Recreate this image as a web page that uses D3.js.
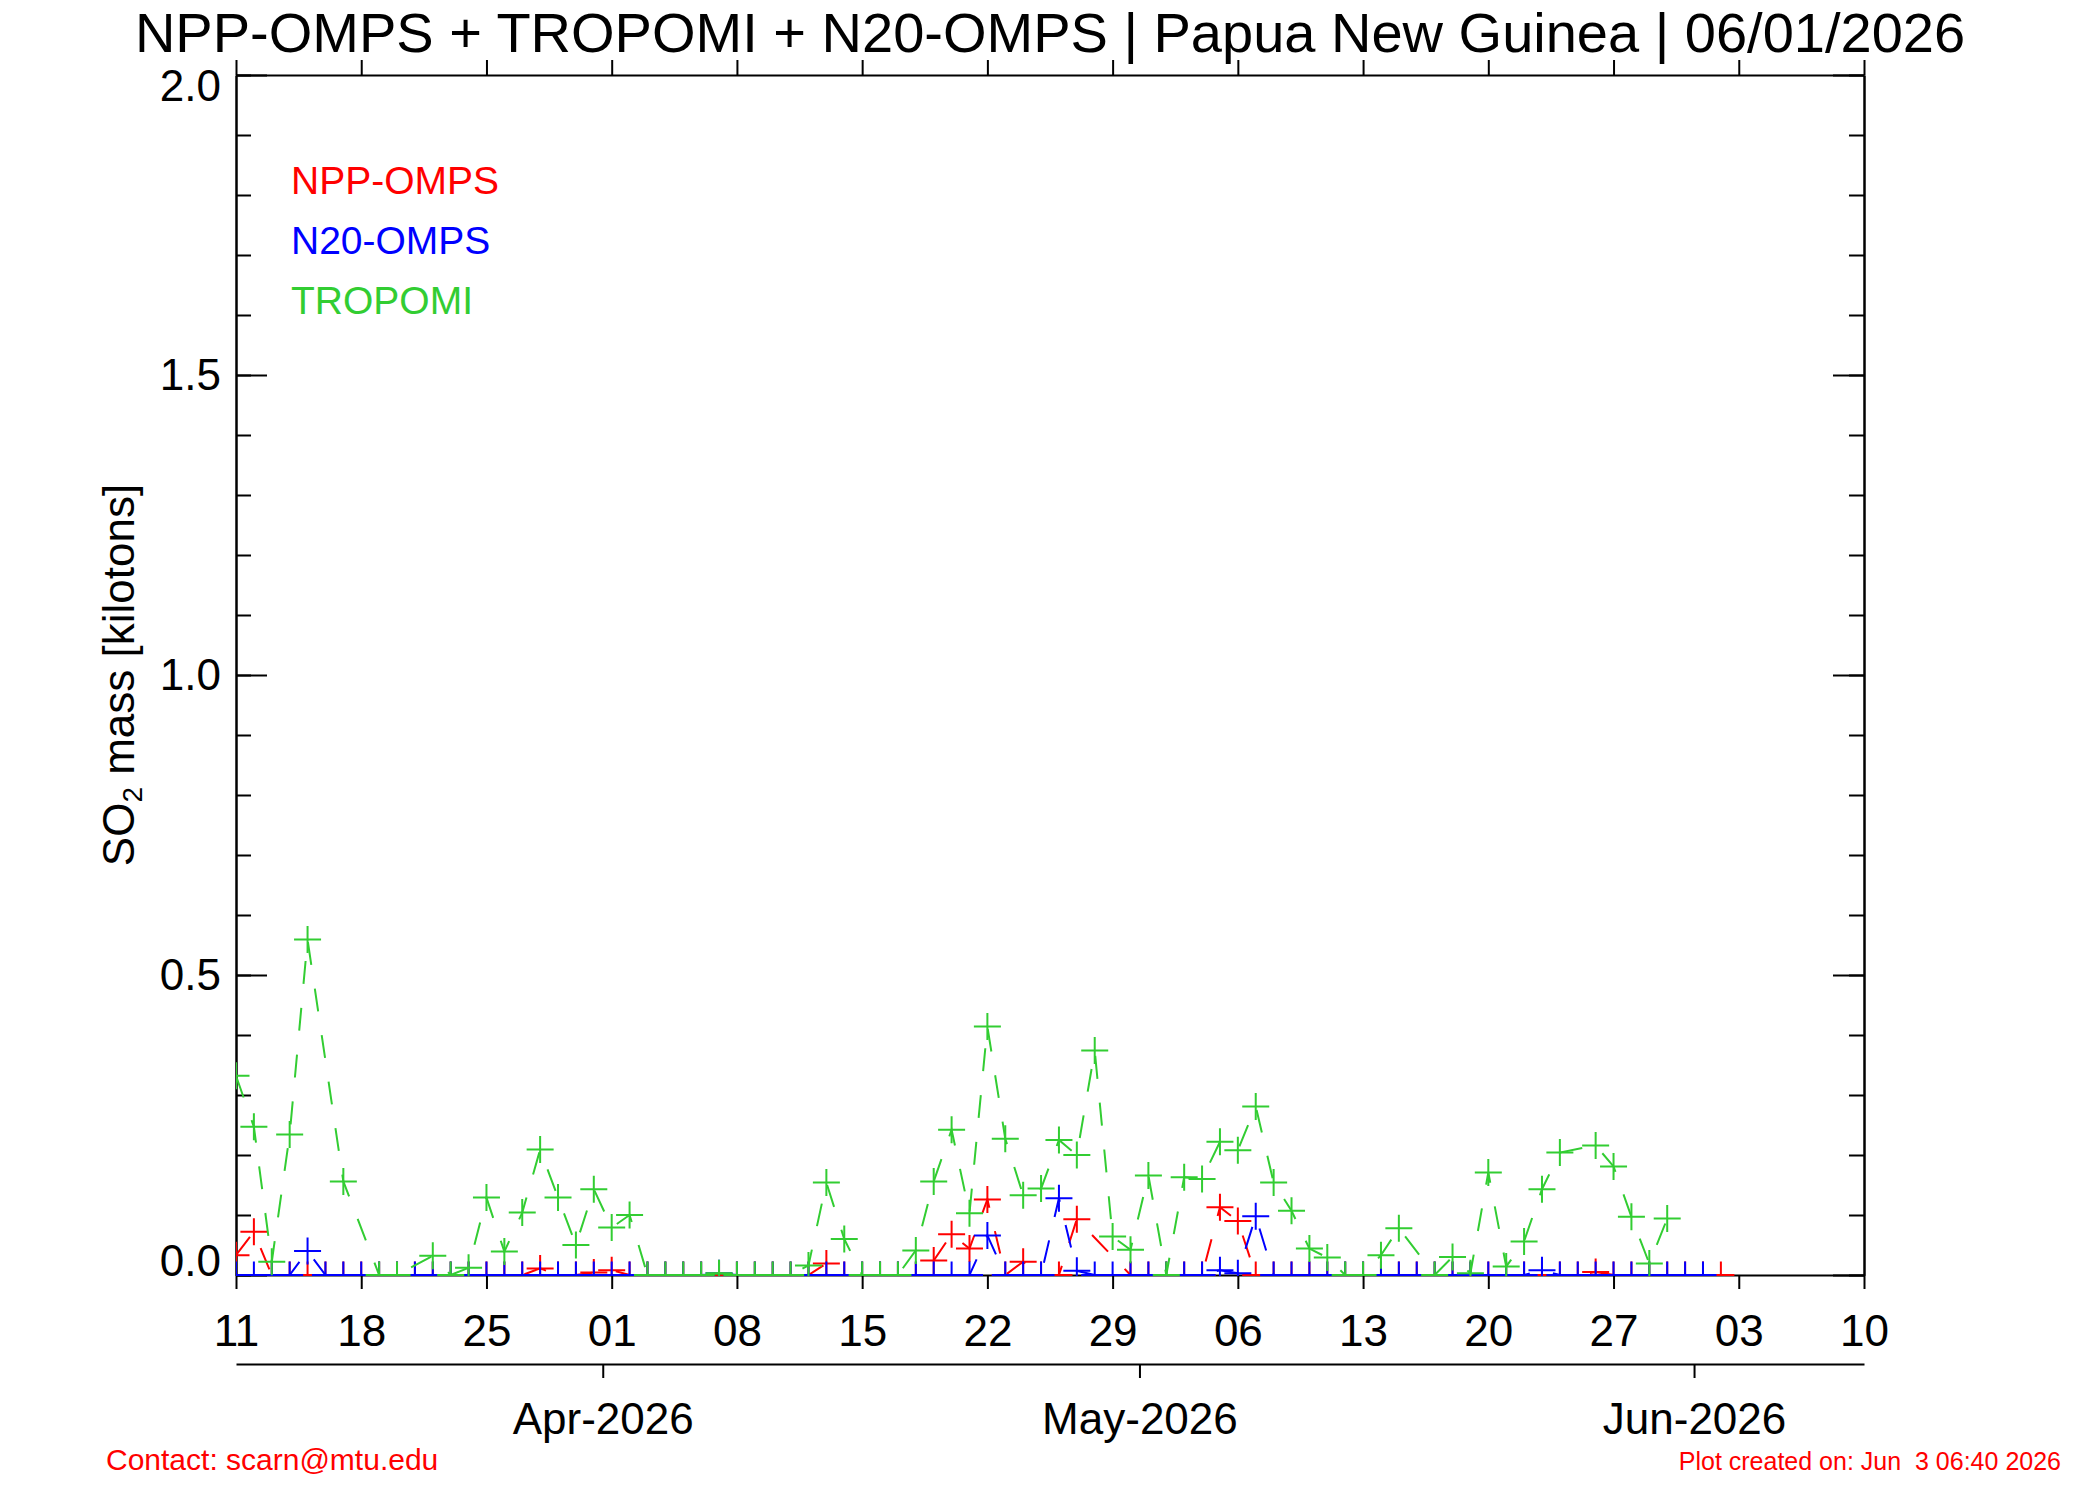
<!DOCTYPE html>
<html>
<head>
<meta charset="utf-8">
<script src="https://cdn.jsdelivr.net/npm/d3@7"></script>
<style>
body { margin: 0; background: #ffffff; }
text { font-family: "Liberation Sans", Arial, Helvetica, sans-serif; }
</style>
</head>
<body>
<svg id="chart" width="2100" height="1500"></svg>
<script>
var START_DATE = "2026-03-11";
var END_DATE = "2026-06-10";

// daily SO2 mass [kilotons], one value per day from START_DATE, null = no retrieval
var nppOmps = [
	0.033, 0.072, 0, 0, 0, 0, 0, 0, 0, 0,
	0, 0, 0, 0, 0, 0, 0, 0.011, 0, 0,
	0.004, 0.008, 0, 0, 0, 0, 0, 0, 0, 0,
	0, 0, 0, 0.019, 0, 0, 0, 0, 0, 0.024,
	0.068, 0.044, 0.126, 0, 0.022, 0, 0, 0.093, null, null,
	0, 0, 0, 0, 0, 0.113, 0.09, 0, 0, 0,
	0, 0, 0, 0, 0, 0, 0, 0, 0, 0,
	0, 0, 0, 0, 0, 0, 0.005, 0, 0, 0,
	0, 0, 0, 0
];

var n20Omps = [
	0, 0, 0, 0, 0.04, 0, 0, 0, 0, 0,
	0, 0, 0, 0, 0, 0, 0, 0, 0, 0,
	0, 0, 0, 0, 0, 0, 0, 0.003, 0, 0,
	0, 0, 0, 0, 0, 0, 0, 0, 0, 0,
	0, 0, 0.066, 0, 0, 0, 0.128, 0.007, 0, 0,
	0, 0, 0, 0, 0, 0.008, 0.003, 0.098, 0, 0,
	0, 0, 0, 0, 0, 0, 0, 0, 0, 0,
	0, 0, 0, 0.008, 0, 0, 0, 0, 0, 0,
	0, 0, 0, null
];

var tropomi = [
	0.332, 0.247, 0.022, 0.234, 0.559, null, 0.156, null, 0, 0,
	null, 0.032, 0, 0.012, 0.129, 0.039, 0.104, 0.209, 0.129, 0.05,
	0.143, 0.079, 0.1, 0, 0, 0, 0, 0.003, 0, 0,
	0, 0, 0.016, 0.154, 0.06, 0, 0, 0, 0.041, 0.156,
	0.242, 0.103, 0.414, 0.227, 0.133, 0.144, 0.225, 0.2, 0.374, 0.064,
	0.042, 0.166, 0, 0.163, 0.16, 0.222, 0.208, 0.281, 0.154, 0.107,
	0.044, 0.029, 0, 0, 0.033, 0.078, null, 0, 0.03, 0.003,
	0.171, 0.014, 0.056, 0.143, 0.204, null, 0.216, 0.181, 0.097, 0.019,
	0.094, null, null, null
];

var seriesNames = ["NPP-OMPS", "N20-OMPS", "TROPOMI"];
var seriesColors = ["#ff0000", "#0000ff", "#32cd32"];

var yMajorTicks = [0, 0.5, 1.0, 1.5, 2.0];
var yMinorTicks = [0, 0.1, 0.2, 0.3, 0.4, 0.5, 0.6, 0.7, 0.8, 0.9, 1.0,
	1.1, 1.2, 1.3, 1.4, 1.5, 1.6, 1.7, 1.8, 1.9, 2.0];

// month marks sit half a day before the 1st, as in the original plot
var monthTicks = ["2026-03-31T12:00:00Z", "2026-04-30T12:00:00Z", "2026-05-31T12:00:00Z"];
var monthLabels = ["Apr-2026", "May-2026", "Jun-2026"];

var titleText = "NPP-OMPS + TROPOMI + N20-OMPS | Papua New Guinea | 06/01/2026";
var contactText = "Contact: scarn@mtu.edu";
var createdText = "Plot created on: Jun  3 06:40 2026";

var LEFT = 236, RIGHT = 1864, TOP = 75, BOTTOM = 1275;

var parseDay = d3.utcParse("%Y-%m-%d");
var startDay = parseDay(START_DATE);
var endDay = parseDay(END_DATE);

var x = d3.scaleUtc().domain([startDay, endDay]).range([LEFT, RIGHT]);
var y = d3.scaleLinear().domain([0, 2]).range([BOTTOM, TOP]);

var weekTicks = d3.utcDay.range(startDay, d3.utcDay.offset(endDay, 1), 7);

var svg = d3.select("#chart");

svg.append("rect")
	.attr("width", 2100)
	.attr("height", 1500)
	.attr("fill", "#ffffff");

function styleAxis(g, fontSize) {
	g.attr("font-family", "\"Liberation Sans\", Arial, Helvetica, sans-serif")
		.attr("font-size", fontSize);
	g.selectAll("path, line").attr("stroke", "#000").attr("stroke-width", 2);
	g.selectAll("text").attr("fill", "#000");
}

// bottom date axis
svg.append("g")
	.attr("transform", "translate(0," + BOTTOM + ")")
	.call(d3.axisBottom(x).tickValues(weekTicks).tickSizeInner(14).tickSizeOuter(0)
		.tickPadding(26).tickFormat(d3.utcFormat("%d")))
	.call(styleAxis, 44);

// top axis, ticks only
svg.append("g")
	.attr("transform", "translate(0," + TOP + ")")
	.call(d3.axisTop(x).tickValues(weekTicks).tickSizeInner(15).tickSizeOuter(0).tickFormat(""))
	.call(styleAxis, 44);

// month axis below
var parseIso = d3.utcParse("%Y-%m-%dT%H:%M:%SZ");
var monthDates = monthTicks.map(function (s) { return parseIso(s); });
svg.append("g")
	.attr("transform", "translate(0,1364)")
	.call(d3.axisBottom(x).tickValues(monthDates).tickSizeInner(14).tickSizeOuter(0)
		.tickPadding(25).tickFormat(function (d, i) { return monthLabels[i]; }))
	.call(styleAxis, 44);

// left axis: inward ticks + labels
svg.append("g")
	.attr("transform", "translate(" + LEFT + ",0)")
	.call(d3.axisRight(y).tickValues(yMinorTicks).tickSizeInner(15).tickSizeOuter(0).tickFormat(""))
	.call(styleAxis, 44);
svg.append("g")
	.attr("transform", "translate(" + LEFT + ",0)")
	.call(d3.axisRight(y).tickValues(yMajorTicks).tickSizeInner(31).tickSizeOuter(0).tickFormat(""))
	.call(styleAxis, 44);
var yLabels = svg.append("g")
	.attr("transform", "translate(" + LEFT + ",0)")
	.call(d3.axisLeft(y).tickValues(yMajorTicks).tickSize(0).tickPadding(15).tickFormat(d3.format(".1f")))
	.call(styleAxis, 44);
yLabels.select(".domain").remove();
yLabels.selectAll(".tick text")
	.attr("dy", function (d) {
		if (d === 0) {
			return "0em";
		} else if (d === 2) {
			return "0.59em";
		}
		return "0.34em";
	});

// right axis, ticks only
svg.append("g")
	.attr("transform", "translate(" + RIGHT + ",0)")
	.call(d3.axisLeft(y).tickValues(yMinorTicks).tickSizeInner(15).tickSizeOuter(0).tickFormat(""))
	.call(styleAxis, 44);
svg.append("g")
	.attr("transform", "translate(" + RIGHT + ",0)")
	.call(d3.axisLeft(y).tickValues(yMajorTicks).tickSizeInner(31).tickSizeOuter(0).tickFormat(""))
	.call(styleAxis, 44);

// y title
var yTitle = svg.append("text")
	.attr("transform", "translate(134," + ((TOP + BOTTOM) / 2) + ") rotate(-90)")
	.attr("text-anchor", "middle")
	.attr("font-size", 44)
	.attr("fill", "#000");
yTitle.append("tspan").text("SO");
yTitle.append("tspan").attr("font-size", 28).attr("dy", 8).text("2");
yTitle.append("tspan").attr("dy", -8).text(" mass [kilotons]");

// title
svg.append("text")
	.attr("x", 1050)
	.attr("y", 52)
	.attr("text-anchor", "middle")
	.attr("font-size", 56)
	.attr("fill", "#000")
	.text(titleText);

// data
svg.append("clipPath")
	.attr("id", "plotclip")
	.append("rect")
	.attr("x", LEFT)
	.attr("y", TOP)
	.attr("width", RIGHT - LEFT)
	.attr("height", BOTTOM - TOP + 1);

var plot = svg.append("g").attr("clip-path", "url(#plotclip)");

var line = d3.line()
	.x(function (d) { return x(d.date); })
	.y(function (d) { return y(d.value); });

var ARM = 13.5;

function toPoints(values) {
	var pts = [];
	values.forEach(function (v, i) {
		if (v !== null) {
			pts.push({ date: d3.utcDay.offset(startDay, i), value: v });
		}
	});
	return pts;
}

[nppOmps, n20Omps, tropomi].forEach(function (values, k) {
	var pts = toPoints(values);
	var g = plot.append("g").attr("class", "series");

	g.append("path")
		.datum(pts)
		.attr("d", line)
		.attr("fill", "none")
		.attr("stroke", seriesColors[k])
		.attr("stroke-width", 2)
		.attr("stroke-dasharray", "23,24");

	g.selectAll(".marker")
		.data(pts)
		.enter().append("path")
		.attr("class", "marker")
		.attr("d", function (d) {
			var cx = x(d.date), cy = y(d.value);
			return "M" + (cx - ARM) + "," + cy + "H" + (cx + ARM) +
				"M" + cx + "," + (cy - ARM) + "V" + (cy + ARM);
		})
		.attr("fill", "none")
		.attr("stroke", seriesColors[k])
		.attr("stroke-width", 2);
});

// legend
svg.append("g")
	.selectAll("text")
	.data(seriesNames)
	.enter().append("text")
	.attr("x", 291)
	.attr("y", function (d, i) { return 194 + i * 60; })
	.attr("font-size", 39)
	.attr("fill", function (d, i) { return seriesColors[i]; })
	.text(function (d) { return d; });

// footer
svg.append("text")
	.attr("x", 106)
	.attr("y", 1470)
	.attr("font-size", 30)
	.attr("fill", "#ff0000")
	.text(contactText);

svg.append("text")
	.attr("x", 2061)
	.attr("y", 1470)
	.attr("text-anchor", "end")
	.attr("font-size", 25)
	.attr("fill", "#ff0000")
	.style("white-space", "pre")
	.text(createdText);
</script>
</body>
</html>
